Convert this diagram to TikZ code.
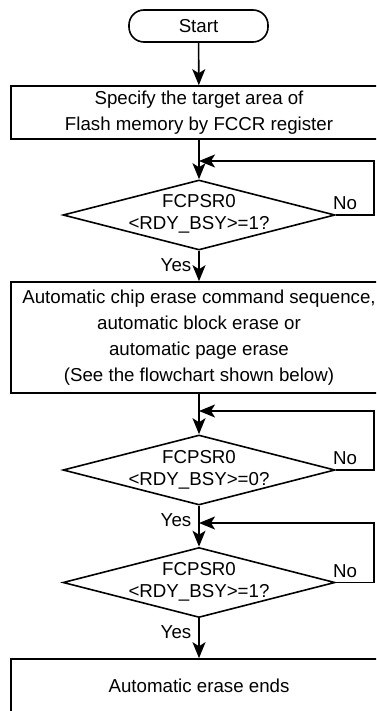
\documentclass[tikz,border=0pt]{standalone}
\usepackage{fontspec}
\setmainfont{Liberation Sans}
\usetikzlibrary{shapes.geometric,arrows.meta}
\begin{document}
\begin{tikzpicture}[x=1pt,y=-1pt,
  line width=1.6pt,
  box/.style={draw, rectangle, minimum width=376pt, inner sep=0pt, align=center,
              font=\fontsize{18.7}{26}\selectfont},
  term/.style={draw, rectangle, rounded corners=15pt, minimum width=139pt, minimum height=32pt,
              inner sep=0pt, font=\fontsize{18.7}{26}\selectfont},
  dia/.style={draw, diamond, minimum width=272pt, minimum height=70pt, inner sep=0pt},
  dtext/.style={font=\fontsize{18.7}{22}\selectfont, align=center, inner sep=0pt},
  lab/.style={font=\fontsize{18.7}{22}\selectfont, inner sep=0pt},
  arr/.style={-{Stealth[length=16pt,width=13pt,inset=4pt]}}
]
\useasboundingbox (0,0) rectangle (376,711);
\clip (0,0) rectangle (376,711);

\node[term] (start) at (198.5,26) {Start};
\node[box, minimum height=53pt] (b1) at (199,112.5) {Specify the target area of\\Flash memory by FCCR register};

\node[dia] (d1) at (199,215) {};
\node[dtext] (d1t) at (199,213.5) {FCPSR0\\<RDY\_BSY>=1?};

\node[box, minimum height=111pt] (b2) at (199,337.5) {Automatic chip erase command sequence,\\automatic block erase or\\automatic page erase\\(See the flowchart shown below)};

\node[dia] (d2) at (199,470) {};
\node[dtext] (d2t) at (199,469.5) {FCPSR0\\<RDY\_BSY>=0?};

\node[dia] (d3) at (199,582.5) {};
\node[dtext] (d3t) at (199,582) {FCPSR0\\<RDY\_BSY>=1?};

\node[box, minimum height=53pt] (b3) at (199,685.5) {Automatic erase ends};

\coordinate (j1) at (199,161);
\coordinate (j2) at (199,411);
\coordinate (j3) at (199,523);

\draw[arr] (start) -- (b1);
\draw[arr] (b1) -- (d1.north);
\draw[arr] (d1.east) -- ++(38,0) |- (j1);
\draw[arr] (d1.south) -- (b2);
\draw[arr] (b2) -- (d2.north);
\draw[arr] (d2.east) -- ++(38,0) |- (j2);
\draw[arr] (d2.south) -- (d3.north);
\draw[arr] (d3.east) -- ++(38,0) |- (j3);
\draw[arr] (d3.south) -- (b3);

\node[lab] (no1) at (345,203) {No};
\node[lab] (no2) at (345,458) {No};
\node[lab] (no3) at (345,571) {No};
\node[lab] (yes1) at (176,265) {Yes};
\node[lab] (yes2) at (176,520) {Yes};
\node[lab] (yes3) at (176,632) {Yes};
\end{tikzpicture}
\end{document}
